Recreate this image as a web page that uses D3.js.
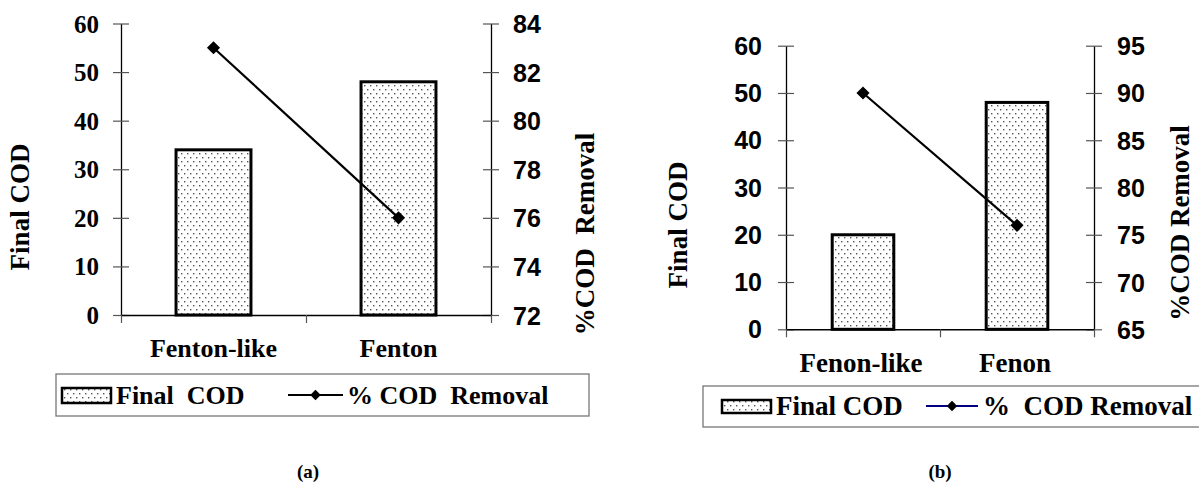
<!DOCTYPE html>
<html>
<head>
<meta charset="utf-8">
<script src="https://cdn.jsdelivr.net/npm/d3@7/dist/d3.min.js"></script>
<style>
  html, body { margin: 0; padding: 0; background: #fff; }
  svg { display: block; }
</style>
</head>
<body>
<svg id="chart" width="1199" height="489"></svg>
<script>
// ---------- DATA ----------
const categoriesA = ["Fenton-like", "Fenton"];
const finalCodA = [34, 48];
const removalA = [83, 76];
const leftTicksA = [0, 10, 20, 30, 40, 50, 60];
const rightTicksA = [72, 74, 76, 78, 80, 82, 84];

const categoriesB = ["Fenon-like", "Fenon"];
const finalCodB = [20, 48];
const removalB = [90, 76];
const leftTicksB = [0, 10, 20, 30, 40, 50, 60];
const rightTicksB = [65, 70, 75, 80, 85, 90, 95];

const SERIF = "Liberation Serif";
const SANS = "Liberation Sans";

const svg = d3.select("#chart");

function font(sel, fam, size) {
  return sel.style("font-family", fam).style("font-weight", "bold").style("font-size", size + "px").style("white-space", "pre");
}

// dotted pattern
const defs = svg.append("defs");
const pat = defs.append("pattern").attr("id", "dots")
  .attr("patternUnits", "userSpaceOnUse").attr("width", 6).attr("height", 8);
pat.append("rect").attr("width", 6).attr("height", 8).attr("fill", "#fff");
pat.append("rect").attr("x", 1).attr("y", 1).attr("width", 1.4).attr("height", 1.4).attr("fill", "#555");
pat.append("rect").attr("x", 4).attr("y", 5).attr("width", 1.4).attr("height", 1.4).attr("fill", "#555");

function drawChart(cfg) {
  const g = svg.append("g");
  const x = d3.scaleBand().domain(cfg.categories).range([cfg.xL, cfg.xR]).padding(0);
  const yL = d3.scaleLinear().domain(cfg.leftDomain).range([cfg.y0, cfg.yTop]);
  const yR = d3.scaleLinear().domain(cfg.rightDomain).range([cfg.y0, cfg.yTop]);
  const bw = x.bandwidth() * cfg.barFrac;

  // bars
  g.selectAll("rect.bar").data(cfg.categories).enter().append("rect")
    .attr("class", "bar")
    .attr("x", d => x(d) + (x.bandwidth() - bw) / 2)
    .attr("width", bw)
    .attr("y", (d, i) => yL(cfg.bars[i]))
    .attr("height", (d, i) => yL(0) - yL(cfg.bars[i]))
    .attr("fill", "url(#dots)").attr("stroke", "#000").attr("stroke-width", 3);

  // left axis
  const axL = g.append("g").attr("transform", `translate(${cfg.xL},0)`)
    .call(d3.axisLeft(yL).tickValues(cfg.leftTicks).tickSizeInner(8).tickSizeOuter(0).tickPadding(cfg.padL));
  axL.select(".domain").attr("stroke", "#000").attr("stroke-width", 1.3);
  axL.selectAll(".tick line").attr("x1", 8).attr("x2", -8).attr("stroke", "#555").attr("stroke-width", 1.2);
  font(axL.selectAll(".tick text"), cfg.leftFont, cfg.tickSize).attr("fill", "#000").attr("dy", "0.34em");

  // right axis
  const axR = g.append("g").attr("transform", `translate(${cfg.xR},0)`)
    .call(d3.axisRight(yR).tickValues(cfg.rightTicks).tickSizeInner(8).tickSizeOuter(0).tickPadding(cfg.padR));
  axR.select(".domain").attr("stroke", "#000").attr("stroke-width", 1.3);
  axR.selectAll(".tick line").attr("x1", -8).attr("x2", 8).attr("stroke", "#555").attr("stroke-width", 1.2);
  font(axR.selectAll(".tick text"), SANS, cfg.tickSize).attr("fill", "#000").attr("dy", "0.36em");

  // bottom axis
  const xb = d3.scalePoint().domain(d3.range(cfg.categories.length + 1)).range([cfg.xL, cfg.xR]);
  const axB = g.append("g").attr("transform", `translate(0,${cfg.y0})`)
    .call(d3.axisBottom(xb).tickSizeInner(8).tickSizeOuter(0).tickFormat(""));
  axB.select(".domain").attr("stroke", "#000").attr("stroke-width", 1.5);
  axB.selectAll(".tick line").attr("stroke", "#555").attr("stroke-width", 1.2);

  // category labels
  font(g.selectAll("text.cat").data(cfg.categories).enter().append("text")
    .attr("class", "cat")
    .attr("x", d => x(d) + x.bandwidth() / 2 + cfg.catDx)
    .attr("y", cfg.catY)
    .attr("text-anchor", "middle"), SERIF, cfg.catSize).text(d => d);

  // line + markers
  const line = d3.line().x((d, i) => x(cfg.categories[i]) + x.bandwidth() / 2).y(d => yR(d));
  g.append("path").datum(cfg.line).attr("d", line)
    .attr("fill", "none").attr("stroke", "#000").attr("stroke-width", 2.2);
  g.selectAll("path.mk").data(cfg.line).enter().append("path")
    .attr("class", "mk")
    .attr("d", d3.symbol().type(d3.symbolDiamond2).size(110))
    .attr("transform", (d, i) => `translate(${x(cfg.categories[i]) + x.bandwidth() / 2},${yR(d)})`)
    .attr("fill", "#000");

  // axis titles
  font(g.append("text").attr("transform", `translate(${cfg.tlX},${cfg.tlY}) rotate(-90)`)
    .attr("text-anchor", "middle").attr("dy", "0.33em"), SERIF, cfg.titleSize).text("Final COD");
  font(g.append("text").attr("transform", `translate(${cfg.trX},${cfg.trY}) rotate(-90)`)
    .attr("text-anchor", "middle").attr("dy", "0.33em"), SERIF, cfg.titleSize).text(cfg.rightTitle);

  // legend
  const L = cfg.legend;
  g.append("rect").attr("x", L.x).attr("y", L.y).attr("width", L.w).attr("height", L.h)
    .attr("fill", "#fff").attr("stroke", "#777").attr("stroke-width", 1.3);
  g.append("rect").attr("x", L.swX).attr("y", L.swY).attr("width", L.swW).attr("height", L.swH)
    .attr("fill", "url(#dots)").attr("stroke", "#000").attr("stroke-width", 2.5);
  font(g.append("text").attr("x", L.t1X).attr("y", L.base), SERIF, L.size).text(L.t1);
  g.append("line").attr("x1", L.lnX1).attr("x2", L.lnX2).attr("y1", L.lnY).attr("y2", L.lnY)
    .attr("stroke", L.lnColor).attr("stroke-width", 2);
  g.append("path").attr("d", d3.symbol().type(d3.symbolDiamond2).size(70))
    .attr("transform", `translate(${(L.lnX1 + L.lnX2) / 2},${L.lnY})`).attr("fill", "#000");
  font(g.append("text").attr("x", L.t2X).attr("y", L.base), SERIF, L.size).text(L.t2);

  // caption
  font(g.append("text").attr("x", cfg.capX).attr("y", 478).attr("text-anchor", "middle"), SERIF, 19).text(cfg.caption);
}

drawChart({
  categories: categoriesA, bars: finalCodA, line: removalA,
  leftTicks: leftTicksA, rightTicks: rightTicksA,
  leftDomain: [0, 60], rightDomain: [72, 84],
  xL: 121, xR: 491, y0: 315, yTop: 23.5, barFrac: 0.405,
  leftFont: SERIF, tickSize: 25, padL: 14, padR: 14,
  catY: 357, catSize: 26, catDx: 0,
  tlX: 20, tlY: 207, trX: 585, trY: 234, titleSize: 27, rightTitle: "%COD  Removal",
  legend: { x: 56, y: 374, w: 533, h: 42, swX: 62, swY: 388, swW: 49, swH: 15,
    t1X: 116, t1: "Final  COD", base: 404, size: 26,
    lnX1: 288, lnX2: 343, lnY: 395, lnColor: "#000", t2X: 347, t2: "% COD  Removal" },
  capX: 308, caption: "(a)"
});

drawChart({
  categories: categoriesB, bars: finalCodB, line: removalB,
  leftTicks: leftTicksB, rightTicks: rightTicksB,
  leftDomain: [0, 60], rightDomain: [65, 95],
  xL: 786, xR: 1094, y0: 329.3, yTop: 45.7, barFrac: 0.40,
  leftFont: SANS, tickSize: 25, padL: 16, padR: 15,
  catY: 372, catSize: 27, catDx: -2,
  tlX: 678, tlY: 225, trX: 1180, trY: 223, titleSize: 27, rightTitle: "%COD Removal",
  legend: { x: 703, y: 386, w: 510, h: 41, swX: 722, swY: 400, swW: 49, swH: 13,
    t1X: 776, t1: "Final COD", base: 415, size: 27,
    lnX1: 926, lnX2: 978, lnY: 406, lnColor: "#000080", t2X: 983, t2: "%  COD Removal" },
  capX: 940, caption: "(b)"
});
</script>
</body>
</html>
